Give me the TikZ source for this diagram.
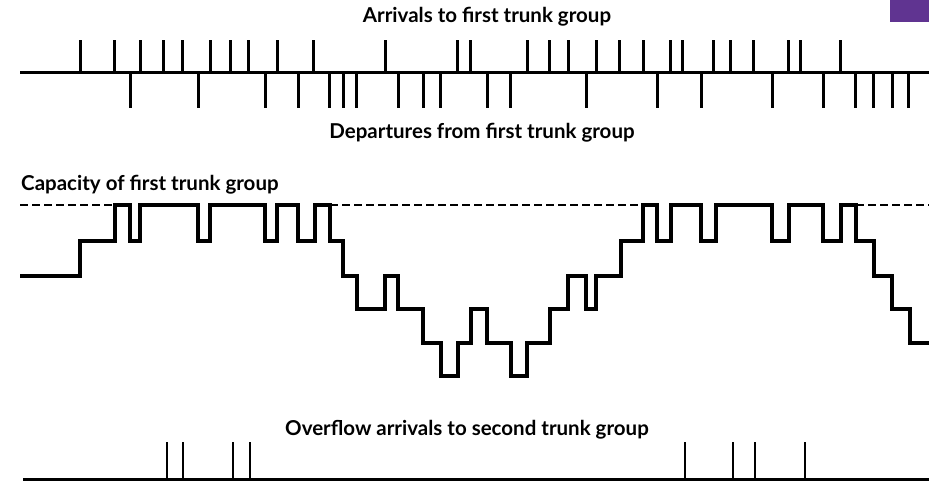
\documentclass[tikz,border=0pt]{standalone}
\usepackage{fontspec}
\setmainfont{Lato}
\definecolor{boxpurple}{RGB}{96,52,145}
\begin{document}
\begin{tikzpicture}[x=1pt,y=-1pt,
  lbl/.style={font=\fontsize{20.5}{23}\selectfont\bfseries, inner sep=0pt},
  axisline/.style={line width=3pt},
  ticks/.style={line width=3pt},
  stair/.style={line width=3.5pt, line join=miter},
  capline/.style={line width=2pt, dash pattern=on 8pt off 4pt}]
\useasboundingbox (0,0) rectangle (929,480);
\fill[boxpurple] (890,0) rectangle (929,22);
% labels
\node[lbl] (arr) at (487,17) {Arrivals to first trunk group};
\node[lbl] (dep) at (482,133) {Departures from first trunk group};
\node[lbl, anchor=west] (cap) at (21,185) {Capacity of first trunk group};
\node[lbl] (ovf) at (467,430) {Overflow arrivals to second trunk group};
% arrivals / departures
\draw[axisline] (20,72) -- (929,72);
\foreach \x in {80,114,140,163,182,210,230,248,277,313,385,457,470,527,549,568,596,619,643,670,682,713,730,753,788,800,840}
  \draw[ticks] (\x,72) -- (\x,40);
\foreach \x in {130,198,265,298,329,343,356,398,423,440,487,510,586,657,701,772,823,855,873,892,908}
  \draw[ticks] (\x,72) -- (\x,108);
% capacity
\draw[capline] (20,205) -- (115,205);
\draw[capline] (330,205) -- (643,205);
\draw[capline] (856,205) -- (929,205);
\draw[stair] (20,276)
  \foreach \x/\y in {80/241,115/205,130/241,140/205,198/241,210/205,265/241,277/205,298/241,315/205,330/241,343/276,357/309,385/276,398/309,423/343,441/376,458/343,471/309,487/343,511/376,527/343,550/309,568/276,586/309,596/276,621/241,643/205,657/241,671/205,701/241,716/205,772/241,789/205,823/241,841/205,856/241,874/276,892/309,910/343}
  { -| (\x,\y) } -- (929,343);
% overflow
\draw[axisline] (23,479) -- (929,479);
\foreach \x in {167,183,233,250,685,733,755,805}
  \draw[ticks, line width=2.6pt] (\x,479) -- (\x,442);
\end{tikzpicture}
\end{document}
